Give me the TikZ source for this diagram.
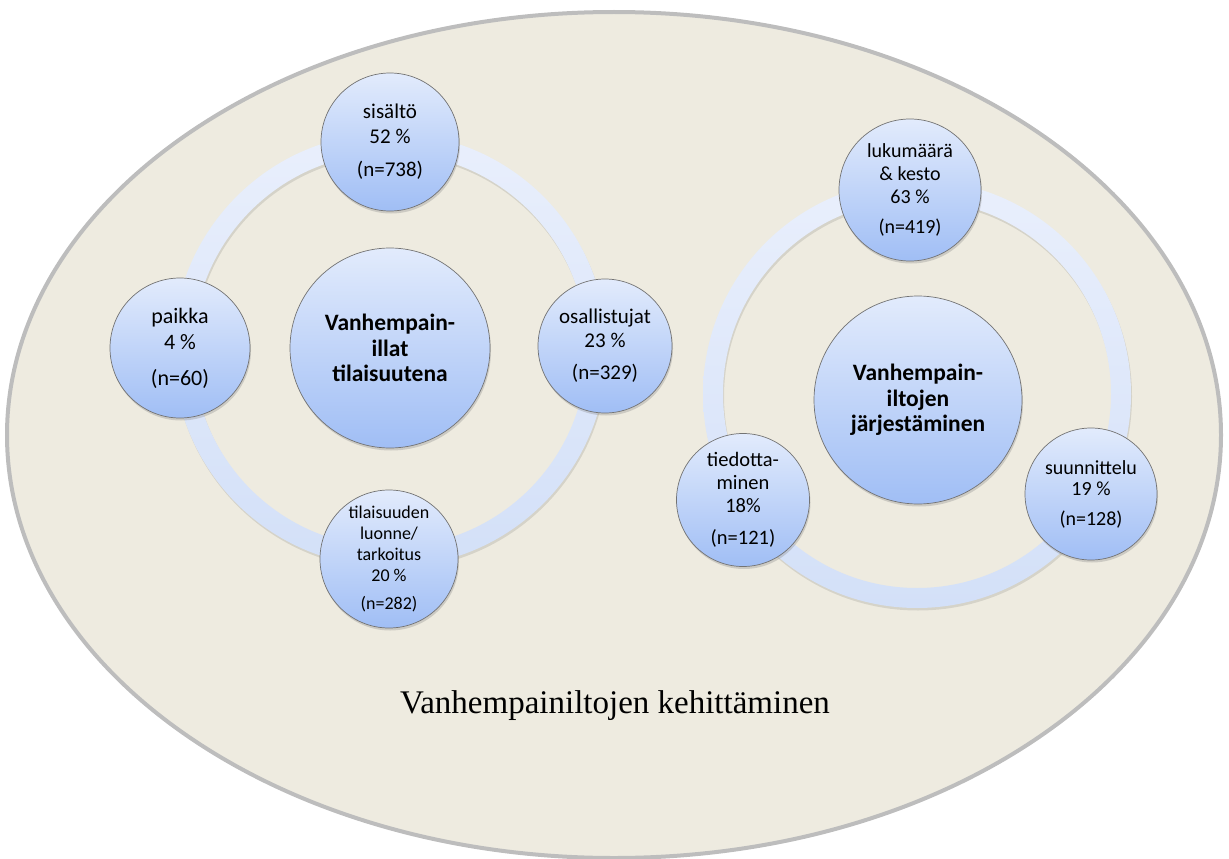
\documentclass[tikz,border=0pt]{standalone}
\usepackage{fontspec}
\setmainfont{Carlito}
\newfontfamily\captionfont{Liberation Serif}
\usetikzlibrary{shapes.geometric}
\usetikzlibrary{shadows}
\definecolor{fieldfill}{HTML}{EEEBE0}
\definecolor{fieldline}{HTML}{BDBDBD}
\definecolor{ringtop}{HTML}{E9EFFC}
\definecolor{ringbottom}{HTML}{D3E0F8}
\definecolor{balltop}{HTML}{E2EBFC}
\definecolor{ballbottom}{HTML}{A0BEF5}
\definecolor{ballline}{HTML}{737373}

\begin{document}
\begin{tikzpicture}[x = 1pt, y = -1pt]
\tikzstyle{Field}=[shape = ellipse,
                   minimum width = 1214pt,
                   minimum height = 846pt,
                   inner sep = 0pt,
                   draw = fieldline, line width = 4pt, fill = fieldfill]
\tikzstyle{Ball}=[shape = circle,
                  inner sep = 0pt,
                  align = center,
                  draw = ballline, line width = 0.7pt,
                  top color = balltop, bottom color = ballbottom,
                  drop shadow = {shadow xshift = 1pt, shadow yshift = -2.5pt, opacity = 0.3}]
\tikzstyle{Hub}=[Ball, font = \bfseries\fontsize{23.5pt}{25.5pt}\selectfont]
\tikzstyle{RingBand}=[even odd rule, top color = ringtop, bottom color = ringbottom]
\tikzstyle{RingShade}=[even odd rule, fill = black, opacity = 0.10]
\useasboundingbox (0,0) rectangle (1229,859);
\node[Field] (field) at (614,435) {};
\node[font = \captionfont\fontsize{33pt}{36pt}\selectfont, anchor = base] (caption) at (615,713) {Vanhempainiltojen kehittäminen};
\coordinate (ringleft) at (390,350);
\coordinate (ringright) at (917,394);
\path[RingShade] ([xshift = 1pt, yshift = -2.5pt]ringleft) circle[radius = 217pt] ([xshift = 1pt, yshift = -2.5pt]ringleft) circle[radius = 197pt];
\path[RingBand] (ringleft) circle[radius = 217pt] (ringleft) circle[radius = 197pt];
\path[RingShade] ([xshift = 1pt, yshift = -2.5pt]ringright) circle[radius = 214pt] ([xshift = 1pt, yshift = -2.5pt]ringright) circle[radius = 194pt];
\path[RingBand] (ringright) circle[radius = 214pt] (ringright) circle[radius = 194pt];
\node[Hub, minimum size = 200pt] (tilaisuutena) at (390,348) {Vanhempain-\\illat\\tilaisuutena};
\node[Ball, minimum size = 138pt, font = \fontsize{21pt}{25pt}\selectfont] (sisalto) at (390,142) {sisältö\\52 \%\\[8pt](n=738)};
\node[Ball, minimum size = 140pt, font = \fontsize{22pt}{26pt}\selectfont] (paikka) at (180,348) {paikka\\4 \%\\[10pt](n=60)};
\node[Ball, minimum size = 134pt, font = \fontsize{21pt}{24pt}\selectfont] (osallistujat) at (605,346) {osallistujat\\23 \%\\[8pt](n=329)};
\node[Ball, minimum size = 138pt, font = \fontsize{18pt}{21pt}\selectfont] (tilaisuuden) at (389,559) {tilaisuuden\\luonne/\\tarkoitus\\20 \%\\[7pt](n=282)};
\node[Hub, minimum size = 208pt] (jarjestaminen) at (918,400) {Vanhempain-\\iltojen\\järjestäminen};
\node[Ball, minimum size = 142pt, font = \fontsize{20pt}{23pt}\selectfont] (lukumaara) at (910,190) {lukumäärä\\\& kesto\\63 \%\\[7pt](n=419)};
\node[Ball, minimum size = 133pt, font = \fontsize{20.5pt}{23pt}\selectfont] (tiedottaminen) at (743,500) {tiedotta-\\minen\\18\%\\[9pt](n=121)};
\node[Ball, minimum size = 132pt, font = \fontsize{20pt}{21pt}\selectfont] (suunnittelu) at (1091,494) {suunnittelu\\19 \%\\[9pt](n=128)};
\end{tikzpicture}
\end{document}
